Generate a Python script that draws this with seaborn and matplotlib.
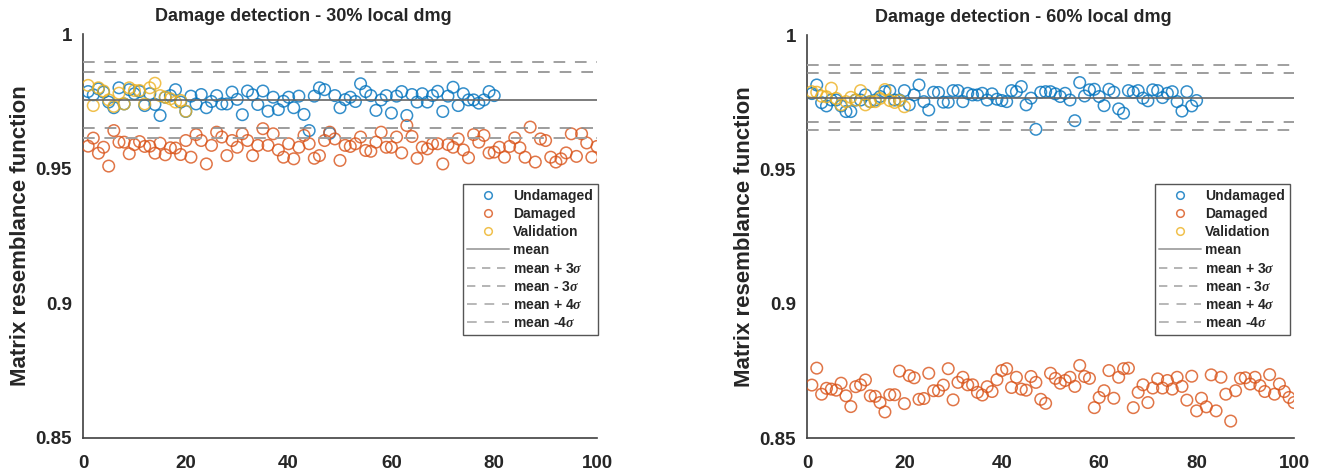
import numpy as np
import pandas as pd
import matplotlib
matplotlib.use("Agg")
import matplotlib.pyplot as plt
from matplotlib.lines import Line2D
import seaborn as sns

# ---------------- data ----------------
titles = ["Damage detection - 30% local dmg", "Damage detection - 60% local dmg"]
ylabel_text = "Matrix resemblance function"
legend_labels = ["Undamaged", "Damaged", "Validation", "mean",
                 r"mean + 3$\sigma$", r"mean - 3$\sigma$", r"mean + 4$\sigma$", r"mean -4$\sigma$"]
xticks = [0, 20, 40, 60, 80, 100]
yticks = [0.85, 0.9, 0.95, 1.0]
ytick_labels = ["0.85", "0.9", "0.95", "1"]

left_undamaged = [
    0.9786, 0.9774, 0.9796, 0.9784, 0.9747, 0.9726, 0.9800, 0.9740, 0.9793, 0.9778,
    0.9786, 0.9734, 0.9778, 0.9738, 0.9697, 0.9765, 0.9771, 0.9793, 0.9747, 0.9712,
    0.9769, 0.9740, 0.9775, 0.9726, 0.9749, 0.9771, 0.9740, 0.9740, 0.9784, 0.9757,
    0.9700, 0.9788, 0.9774, 0.9738, 0.9788, 0.9713, 0.9765, 0.9719, 0.9750, 0.9765,
    0.9726, 0.9769, 0.9701, 0.9641, 0.9769, 0.9800, 0.9793, 0.9631, 0.9771, 0.9726,
    0.9756, 0.9765, 0.9749, 0.9815, 0.9786, 0.9771, 0.9716, 0.9755, 0.9771, 0.9706,
    0.9769, 0.9786, 0.9697, 0.9775, 0.9747, 0.9778, 0.9747, 0.9771, 0.9787, 0.9712,
    0.9769, 0.9802, 0.9734, 0.9778, 0.9755, 0.9755, 0.9743, 0.9755, 0.9786, 0.9771]
left_validation = [
    0.9809, 0.9734, 0.9800, 0.9788, 0.9755, 0.9731, 0.9780, 0.9740, 0.9800, 0.9790,
    0.9790, 0.9740, 0.9800, 0.9817, 0.9771, 0.9765, 0.9759, 0.9747, 0.9753, 0.9713]
left_damaged = [
    0.9583, 0.9613, 0.9557, 0.9579, 0.9509, 0.9641, 0.9598, 0.9598, 0.9555, 0.9589,
    0.9600, 0.9582, 0.9583, 0.9557, 0.9594, 0.9551, 0.9577, 0.9576, 0.9552, 0.9604,
    0.9542, 0.9626, 0.9604, 0.9517, 0.9586, 0.9635, 0.9617, 0.9548, 0.9604, 0.9579,
    0.9629, 0.9604, 0.9548, 0.9586, 0.9648, 0.9586, 0.9629, 0.9569, 0.9542, 0.9592,
    0.9536, 0.9579, 0.9623, 0.9592, 0.9538, 0.9548, 0.9604, 0.9635, 0.9610, 0.9530,
    0.9586, 0.9582, 0.9592, 0.9617, 0.9567, 0.9564, 0.9598, 0.9635, 0.9579, 0.9579,
    0.9617, 0.9558, 0.9660, 0.9619, 0.9538, 0.9579, 0.9573, 0.9592, 0.9592, 0.9517,
    0.9589, 0.9579, 0.9610, 0.9569, 0.9540, 0.9626, 0.9598, 0.9623, 0.9558, 0.9561,
    0.9579, 0.9542, 0.9582, 0.9614, 0.9577, 0.9542, 0.9654, 0.9524, 0.9610, 0.9604,
    0.9542, 0.9524, 0.9536, 0.9558, 0.9629, 0.9545, 0.9629, 0.9595, 0.9542, 0.9582]
left_mean = 0.9755
left_sigma = 0.0035

right_undamaged = [
    0.9782, 0.9814, 0.9748, 0.9736, 0.9758, 0.9758, 0.9736, 0.9715, 0.9715, 0.9758,
    0.9758, 0.9777, 0.9752, 0.9758, 0.9771, 0.9789, 0.9793, 0.9758, 0.9758, 0.9793,
    0.9740, 0.9777, 0.9814, 0.9752, 0.9721, 0.9787, 0.9786, 0.9750, 0.9750, 0.9793,
    0.9793, 0.9752, 0.9783, 0.9777, 0.9777, 0.9783, 0.9758, 0.9781, 0.9761, 0.9756,
    0.9752, 0.9793, 0.9789, 0.9808, 0.9740, 0.9765, 0.9649, 0.9787, 0.9789, 0.9789,
    0.9781, 0.9771, 0.9783, 0.9758, 0.9681, 0.9823, 0.9773, 0.9796, 0.9798, 0.9771,
    0.9737, 0.9798, 0.9787, 0.9725, 0.9709, 0.9793, 0.9787, 0.9793, 0.9765, 0.9755,
    0.9796, 0.9793, 0.9767, 0.9783, 0.9789, 0.9752, 0.9717, 0.9789, 0.9736, 0.9756]
right_validation = [
    0.9789, 0.9787, 0.9772, 0.9770, 0.9802, 0.9764, 0.9740, 0.9752, 0.9768, 0.9758,
    0.9793, 0.9740, 0.9752, 0.9752, 0.9764, 0.9797, 0.9756, 0.9749, 0.9756, 0.9733]
right_damaged = [
    0.8697, 0.8760, 0.8663, 0.8685, 0.8682, 0.8678, 0.8704, 0.8657, 0.8617, 0.8691,
    0.8698, 0.8716, 0.8657, 0.8655, 0.8632, 0.8597, 0.8661, 0.8661, 0.8749, 0.8628,
    0.8732, 0.8724, 0.8644, 0.8647, 0.8741, 0.8676, 0.8676, 0.8697, 0.8758, 0.8642,
    0.8707, 0.8726, 0.8698, 0.8698, 0.8670, 0.8660, 0.8691, 0.8673, 0.8717, 0.8751,
    0.8758, 0.8688, 0.8726, 0.8682, 0.8678, 0.8729, 0.8707, 0.8644, 0.8629, 0.8741,
    0.8722, 0.8704, 0.8714, 0.8726, 0.8692, 0.8770, 0.8729, 0.8722, 0.8613, 0.8651,
    0.8676, 0.8751, 0.8648, 0.8726, 0.8758, 0.8760, 0.8613, 0.8670, 0.8698, 0.8632,
    0.8686, 0.8720, 0.8686, 0.8714, 0.8682, 0.8726, 0.8692, 0.8641, 0.8730, 0.8601,
    0.8648, 0.8616, 0.8735, 0.8601, 0.8726, 0.8663, 0.8563, 0.8676, 0.8722, 0.8724,
    0.8701, 0.8726, 0.8695, 0.8673, 0.8736, 0.8663, 0.8701, 0.8673, 0.8651, 0.8632]
right_mean = 0.9767
right_sigma = 0.0030

# ---------------- style ----------------
sns.set_theme(style="white")
plt.rcParams["font.family"] = ["Liberation Sans", "DejaVu Sans"]
plt.rcParams["font.weight"] = "bold"
plt.rcParams["mathtext.fontset"] = "custom"
plt.rcParams["mathtext.it"] = "Liberation Serif:italic:bold"

C_BLUE = "#0072BD"
C_ORANGE = "#D95319"
C_YELLOW = "#EDB120"
C_MEAN = "#666666"
C_DASH = "#8c8c8c"
TXT = "#262626"

W, H = 1321, 473
fig = plt.figure(figsize=(W / 100, H / 100), dpi=100)
ax_l = fig.add_axes([83 / W, 1 - 437.5 / H, (597 - 83) / W, (437.5 - 34) / H])
ax_r = fig.add_axes([807 / W, 1 - 438 / H, (1294 - 807) / W, (438 - 35) / H])

panels = [
    (ax_l, left_undamaged, left_damaged, left_validation, left_mean, left_sigma, titles[0], 598, 0.428),
    (ax_r, right_undamaged, right_damaged, right_validation, right_mean, right_sigma, titles[1], 1290, 0.445),
]

ms = 8.3
for ax, und, dmg, val, m, s, title, leg_right, tx in panels:
    df_u = pd.DataFrame({"sample": np.arange(1, len(und) + 1), "value": und})
    df_d = pd.DataFrame({"sample": np.arange(1, len(dmg) + 1), "value": dmg})
    df_v = pd.DataFrame({"sample": np.arange(1, len(val) + 1), "value": val})
    for df, c in [(df_u, C_BLUE), (df_d, C_ORANGE), (df_v, C_YELLOW)]:
        sns.scatterplot(data=df, x="sample", y="value", ax=ax, marker="o", s=ms ** 2,
                        facecolors="none", edgecolor=c, linewidth=1.1, alpha=0.8,
                        legend=False, zorder=3)
    ax.axhline(m, color=C_MEAN, lw=1.2, zorder=4)
    ax.axhline(m + 3 * s, color=C_DASH, lw=1.2, ls=(0, (7, 6)), zorder=4)
    ax.axhline(m - 3 * s, color=C_DASH, lw=1.2, ls=(0, (7, 6)), zorder=4)
    ax.axhline(m + 4 * s, color="#a0a0a0", lw=1.4, ls=(0, (6, 5)), zorder=4)
    ax.axhline(m - 4 * s, color="#a0a0a0", lw=1.4, ls=(0, (6, 5)), zorder=4)

    ax.set_xlim(0, 100)
    ax.set_ylim(0.85, 1.0)
    ax.set_xticks(xticks)
    ax.set_xticklabels([str(t) for t in xticks])
    ax.set_yticks(yticks)
    ax.set_yticklabels(ytick_labels)
    ax.set_xlabel("")
    ax.set_ylabel(ylabel_text, fontsize=16, fontweight="bold", color=TXT, labelpad=3)
    ax.set_title(title, fontsize=13, fontweight="bold", color=TXT, pad=9.5, x=tx)
    ax.tick_params(axis="both", direction="in", length=5, width=1, color="#404040",
                   labelsize=13.5, labelcolor=TXT)
    ax.tick_params(axis="x", pad=12.5)
    ax.tick_params(axis="y", pad=8)
    for lab in ax.get_xticklabels() + ax.get_yticklabels():
        lab.set_fontweight("bold")
    for side in ["top", "right"]:
        ax.spines[side].set_visible(False)
    for side in ["left", "bottom"]:
        ax.spines[side].set_color("#404040")
        ax.spines[side].set_linewidth(1.2)

    handles = [
        Line2D([], [], ls="none", marker="o", ms=5.5, mfc="none", mec=C_BLUE, mew=1.1, alpha=0.8),
        Line2D([], [], ls="none", marker="o", ms=5.5, mfc="none", mec=C_ORANGE, mew=1.1, alpha=0.8),
        Line2D([], [], ls="none", marker="o", ms=5.5, mfc="none", mec=C_YELLOW, mew=1.1, alpha=0.8),
        Line2D([], [], color="#a8a8a8", lw=1.4),
        Line2D([], [], color="#a8a8a8", lw=1.2, ls=(0, (5, 4))),
        Line2D([], [], color="#a8a8a8", lw=1.2, ls=(0, (5, 4))),
        Line2D([], [], color="#b8b8b8", lw=1.4, ls=(0, (5, 4))),
        Line2D([], [], color="#b8b8b8", lw=1.4, ls=(0, (5, 4))),
    ]
    leg = ax.legend(handles, legend_labels, loc="upper right",
                    bbox_to_anchor=(leg_right / W, 1 - 184 / H), bbox_transform=fig.transFigure,
                    borderaxespad=0, frameon=True, fancybox=False, framealpha=1,
                    edgecolor="#555555", prop={"size": 10, "weight": "bold"},
                    handlelength=3.0, handletextpad=0.3, labelspacing=0.3, borderpad=0.35)
    leg.get_frame().set_linewidth(1.0)
    for t in leg.get_texts():
        t.set_color(TXT)

fig.savefig("out.png", dpi=100, facecolor="white")
